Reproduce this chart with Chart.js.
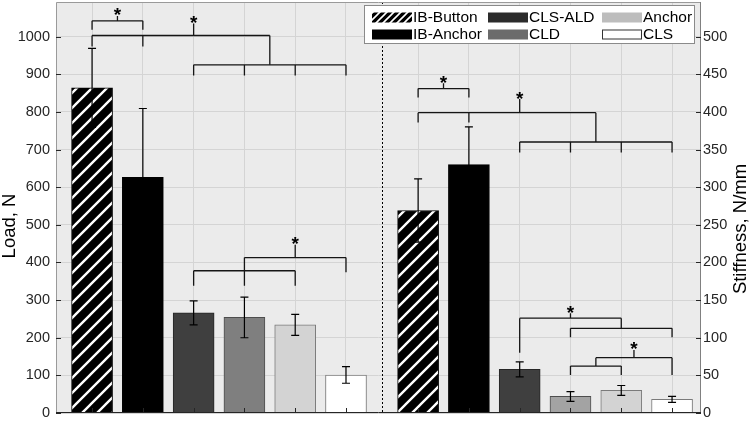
<!DOCTYPE html>
<html>
<head>
<meta charset="utf-8">
<script src="https://cdn.jsdelivr.net/npm/chart.js@4.4.1/dist/chart.umd.min.js"></script>
<style>
html,body{margin:0;padding:0;background:#fff;overflow:hidden}
#wrap{position:relative;width:752px;height:421px}
</style>
</head>
<body>
<div id="wrap"><canvas id="c" width="752" height="421"></canvas></div>
<script>
// ---------------- data ----------------
const categories = ['IB-Button', 'IB-Anchor', 'CLS-ALD', 'CLD', 'Anchor', 'CLS'];
const loadMean  = [864, 626, 266, 254, 234, 101];
const loadSD    = [105, 183, 32, 54, 28, 22];
const stiffMean = [269, 330, 58, 22, 30, 18];
const stiffSD   = [42, 50, 10, 6.5, 6.5, 4];
const loadTicks  = [0, 100, 200, 300, 400, 500, 600, 700, 800, 900, 1000];
const stiffTicks = [0, 50, 100, 150, 200, 250, 300, 350, 400, 450, 500];
const loadTitle  = 'Load, N';
const stiffTitle = 'Stiffness, N/mm';

// significance brackets (x in bar-index units within a group, y in axis units)
const loadBrackets = [
  {level: 1042, from: 0, to: 1,   legs: [[0, 1018], [1, 1018]], stem: [0.5, 1055]},
  {level: 1003, from: 0, to: 3.5, legs: [[0, 974], [1, 974], [3.5, 925]], stem: [2, 1035]},
  {level: 925,  from: 2, to: 5,   legs: [[2, 897], [3, 897], [4, 897], [5, 897]], stem: null},
  {level: 378,  from: 2, to: 4,   legs: [[2, 338], [3, 338], [4, 338]], stem: null},
  {level: 413,  from: 3, to: 5,   legs: [[3, 378], [5, 374]], stem: [4, 447]}
];
const stiffBrackets = [
  {level: 431,   from: 0,   to: 1,   legs: [[0, 419], [1, 419]], stem: [0.5, 438]},
  {level: 399,   from: 0,   to: 3.5, legs: [[0, 386], [1, 386], [3.5, 360]], stem: [2, 417]},
  {level: 360,   from: 2,   to: 5,   legs: [[2, 346], [3, 346], [4, 346], [5, 346]], stem: null},
  {level: 126,   from: 2,   to: 4,   legs: [[2, 80], [4, 112.5]], stem: [3, 132.5]},
  {level: 112.5, from: 3,   to: 5,   legs: [[3, 100.6], [5, 100.6]], stem: null},
  {level: 62.4,  from: 3,   to: 4,   legs: [[3, 50.5], [4, 50.5]], stem: null},
  {level: 73.5,  from: 3.5, to: 5,   legs: [[3.5, 62.4], [5, 50.5]], stem: [4.25, 83.7]}
];

// ---------------- styles ----------------
const loadColors   = ['HATCH', '#000000', '#3f3f3f', '#7f7f7f', '#d3d3d3', '#ffffff'];
const stiffColors  = ['HATCH', '#000000', '#3f3f3f', '#a3a3a3', '#d3d3d3', '#ffffff'];
const legendColors = ['HATCH', '#000000', '#2b2b2b', '#6b6b6b', '#bdbdbd', '#ffffff'];
const edgeColors   = ['#000000', '#000000', '#262626', '#4d4d4d', '#7a7a7a', '#7a7a7a'];
const GROUP2_OFFSET = 6.42;
const FONT = "'Liberation Sans', Arial, Helvetica, sans-serif";

function makeHatch(size, lw) {
  const t = document.createElement('canvas');
  t.width = size; t.height = size;
  const g = t.getContext('2d');
  g.fillStyle = '#000'; g.fillRect(0, 0, size, size);
  g.strokeStyle = '#fff'; g.lineWidth = lw;
  g.beginPath();
  g.moveTo(-1, size + 1); g.lineTo(size + 1, -1);
  g.moveTo(-size / 2 - 1, size / 2 + 1); g.lineTo(size / 2 + 1, -size / 2 - 1);
  g.moveTo(size / 2 - 1, size * 1.5 + 1); g.lineTo(size * 1.5 + 1, size / 2 - 1);
  g.stroke();
  return document.getElementById('c').getContext('2d').createPattern(t, 'repeat');
}
const barHatch = makeHatch(15, 2.4);
const legHatch = makeHatch(7, 1.6);
const fill = (arr, hatch) => arr.map(c => c === 'HATCH' ? hatch : c);

const pos1 = categories.map((_, i) => i);
const pos2 = categories.map((_, i) => i + GROUP2_OFFSET);
const barPositions = pos1.concat(pos2);

function noPad(s) { s.paddingTop = 0; s.paddingBottom = 0; s.paddingLeft = 0; s.paddingRight = 0; }

// ---------------- decoration plugin ----------------
const deco = {
  id: 'deco',
  beforeDraw(chart) {
    const {ctx, chartArea: a} = chart;
    ctx.save();
    ctx.fillStyle = '#ebebeb';
    ctx.fillRect(a.left, a.top, a.right - a.left, a.bottom - a.top);
    ctx.restore();
  },
  afterDatasetsDraw(chart) {
    const {ctx, chartArea: a} = chart;
    const xs = chart.scales.x, y1 = chart.scales.y, y2 = chart.scales.y2;
    ctx.save();

    // separator
    ctx.strokeStyle = '#000'; ctx.lineWidth = 1; ctx.setLineDash([2, 2]);
    const sx = Math.round(xs.getPixelForValue((5 + GROUP2_OFFSET) / 2)) + 0.5;
    ctx.beginPath(); ctx.moveTo(sx, a.top); ctx.lineTo(sx, a.bottom); ctx.stroke();
    ctx.setLineDash([]);

    // error bars
    function errs(pos, mean, sd, ys) {
      ctx.strokeStyle = '#000'; ctx.lineWidth = 1.2;
      pos.forEach((p, i) => {
        const X = xs.getPixelForValue(p);
        const t = ys.getPixelForValue(mean[i] + sd[i]);
        const b = ys.getPixelForValue(mean[i] - sd[i]);
        ctx.beginPath();
        ctx.moveTo(X, t); ctx.lineTo(X, b);
        ctx.moveTo(X - 4, t); ctx.lineTo(X + 4, t);
        ctx.moveTo(X - 4, b); ctx.lineTo(X + 4, b);
        ctx.stroke();
      });
    }
    errs(pos1, loadMean, loadSD, y1);
    errs(pos2, stiffMean, stiffSD, y2);

    // brackets
    function brackets(list, offset, ys) {
      list.forEach(b => {
        const yL = ys.getPixelForValue(b.level);
        ctx.strokeStyle = '#151515'; ctx.lineWidth = 1.3;
        ctx.beginPath();
        ctx.moveTo(xs.getPixelForValue(b.from + offset), yL);
        ctx.lineTo(xs.getPixelForValue(b.to + offset), yL);
        b.legs.forEach(([x, bot]) => {
          const X = xs.getPixelForValue(x + offset);
          ctx.moveTo(X, yL); ctx.lineTo(X, ys.getPixelForValue(bot));
        });
        if (b.stem) {
          const X = xs.getPixelForValue(b.stem[0] + offset);
          ctx.moveTo(X, yL); ctx.lineTo(X, ys.getPixelForValue(b.stem[1]));
        }
        ctx.stroke();
        if (b.stem) {
          const X = xs.getPixelForValue(b.stem[0] + offset);
          const T = ys.getPixelForValue(b.stem[1]);
          ctx.fillStyle = '#000';
          ctx.font = 'bold 19px ' + FONT;
          ctx.textAlign = 'center'; ctx.textBaseline = 'alphabetic';
          ctx.fillText('*', X, T + 5.5);
        }
      });
    }
    brackets(loadBrackets, 0, y1);
    brackets(stiffBrackets, GROUP2_OFFSET, y2);

    // frame
    ctx.lineWidth = 1;
    ctx.strokeStyle = '#9a9a9a';
    ctx.beginPath();
    ctx.moveTo(a.left + 0.5, a.bottom); ctx.lineTo(a.left + 0.5, a.top + 0.5);
    ctx.lineTo(a.right - 0.5, a.top + 0.5);
    ctx.stroke();
    ctx.strokeStyle = '#808080';
    ctx.beginPath(); ctx.moveTo(a.right - 0.5, a.top); ctx.lineTo(a.right - 0.5, a.bottom); ctx.stroke();
    ctx.strokeStyle = '#262626';
    ctx.beginPath(); ctx.moveTo(a.left, a.bottom - 0.5); ctx.lineTo(a.right, a.bottom - 0.5); ctx.stroke();

    // inward ticks
    ctx.strokeStyle = '#262626';
    ctx.beginPath();
    loadTicks.forEach(v => { const Y = Math.round(y1.getPixelForValue(v)) + 0.5; ctx.moveTo(a.left, Y); ctx.lineTo(a.left + 5, Y); });
    stiffTicks.forEach(v => { const Y = Math.round(y2.getPixelForValue(v)) + 0.5; ctx.moveTo(a.right, Y); ctx.lineTo(a.right - 5, Y); });
    barPositions.forEach(v => { const X = Math.round(xs.getPixelForValue(v)) + 0.5; ctx.moveTo(X, a.bottom); ctx.lineTo(X, a.bottom - 5); });
    ctx.stroke();

    // axis titles
    ctx.fillStyle = '#000';
    ctx.font = '18.5px ' + FONT;
    ctx.textAlign = 'center'; ctx.textBaseline = 'middle';
    ctx.save(); ctx.translate(10, 226); ctx.rotate(-Math.PI / 2); ctx.fillText(loadTitle, 0, 0); ctx.restore();
    ctx.save(); ctx.translate(741, 229); ctx.rotate(-Math.PI / 2); ctx.fillText(stiffTitle, 0, 0); ctx.restore();

    // legend
    const L = {left: 364, top: 5, right: 695, bottom: 44};
    ctx.fillStyle = '#fff';
    ctx.fillRect(L.left, L.top, L.right - L.left, L.bottom - L.top);
    ctx.strokeStyle = '#8a8a8a'; ctx.lineWidth = 1;
    ctx.strokeRect(L.left + 0.5, L.top + 0.5, L.right - L.left - 1, L.bottom - L.top - 1);
    const cols = [372, 488, 602], rows = [17.5, 34.5];
    const lf = fill(legendColors, legHatch);
    categories.forEach((name, i) => {
      const cx = cols[Math.floor(i / 2)], cy = rows[i % 2];
      ctx.fillStyle = lf[i];
      ctx.fillRect(cx, cy - 5, 40, 10);
      if (legendColors[i] === '#ffffff') {
        ctx.strokeStyle = '#333'; ctx.lineWidth = 1;
        ctx.strokeRect(cx + 0.5, cy - 4.5, 39, 9);
      }
      ctx.fillStyle = '#000';
      ctx.font = '15.5px ' + FONT;
      ctx.textAlign = 'left'; ctx.textBaseline = 'middle';
      ctx.fillText(name, cx + 41, cy + 0.5);
    });
    ctx.restore();
  }
};

// ---------------- chart ----------------
new Chart(document.getElementById('c'), {
  type: 'bar',
  data: {
    datasets: [
      {
        label: 'Load',
        data: pos1.map((x, i) => ({x, y: loadMean[i]})),
        yAxisID: 'y',
        backgroundColor: fill(loadColors, barHatch),
        borderColor: edgeColors,
        borderWidth: 1,
        barThickness: 41,
        grouped: false
      },
      {
        label: 'Stiffness',
        data: pos2.map((x, i) => ({x, y: stiffMean[i]})),
        yAxisID: 'y2',
        backgroundColor: fill(stiffColors, barHatch),
        borderColor: edgeColors,
        borderWidth: 1,
        barThickness: 41,
        grouped: false
      }
    ]
  },
  options: {
    responsive: false,
    animation: false,
    devicePixelRatio: 1,
    layout: {padding: {top: 2, left: 0, right: 0, bottom: 0}},
    plugins: {legend: {display: false}, tooltip: {enabled: false}},
    scales: {
      x: {
        type: 'linear',
        offset: false,
        min: -0.71, max: 11.99,
        afterBuildTicks: s => { s.ticks = barPositions.map(v => ({value: v})); },
        afterFit: s => { s.height = 8; noPad(s); },
        ticks: {display: false},
        grid: {color: '#d4d4d4', lineWidth: 1, drawTicks: false, offset: false},
        border: {display: false}
      },
      y: {
        position: 'left',
        min: 0, max: 1092,
        afterBuildTicks: s => { s.ticks = loadTicks.map(v => ({value: v})); },
        afterFit: s => { s.width = 56; noPad(s); },
        ticks: {font: {family: FONT, size: 14.5}, color: '#262626', padding: 6, callback: v => String(v)},
        grid: {color: '#d4d4d4', lineWidth: 1, drawTicks: false},
        border: {display: false}
      },
      y2: {
        position: 'right',
        min: 0, max: 546,
        afterBuildTicks: s => { s.ticks = stiffTicks.map(v => ({value: v})); },
        afterFit: s => { s.width = 51; noPad(s); },
        ticks: {font: {family: FONT, size: 14.5}, color: '#262626', padding: 2, callback: v => String(v)},
        grid: {display: false, drawTicks: false},
        border: {display: false}
      }
    }
  },
  plugins: [deco]
});
</script>
</body>
</html>
